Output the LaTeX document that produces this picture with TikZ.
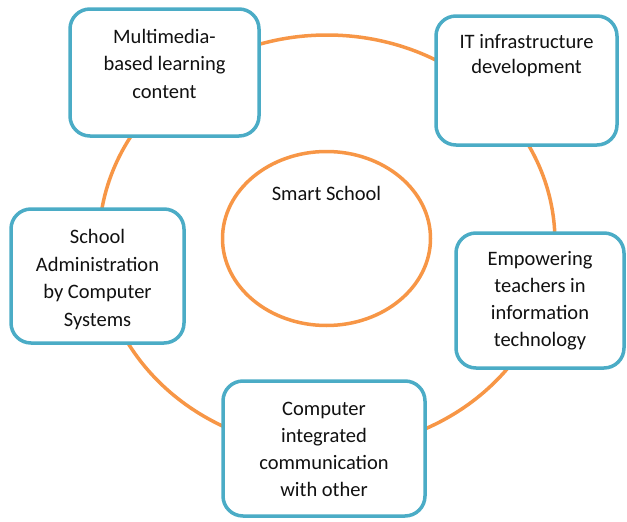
\documentclass[tikz,border=0pt]{standalone}
\usepackage{fontspec}
\setmainfont{Carlito}
\usetikzlibrary{positioning}
\definecolor{Frame}{HTML}{4BACC6}
\definecolor{Ring}{HTML}{F79646}
\definecolor{Ink}{HTML}{111111}
\tikzset{
    areabox/.style={rectangle, rounded corners=20pt, draw=Frame, line width=3.5pt, fill=white, inner sep=0pt},
    areatext/.style={align=center, text=Ink, font=\fontsize{20.5}{27.5}\selectfont, anchor=base, inner sep=0pt},
    orbit/.style={draw=Ring, line width=3.5pt},
}

\begin{document}
\begin{tikzpicture}[x=1pt, y=-1pt]
    \useasboundingbox (0,0) rectangle (627,522);

    % Anello esterno (dietro i riquadri)
    \draw[orbit] (327,242) ellipse [x radius=228pt, y radius=207pt];

    % Centro
    \draw[orbit] (326.5,238.5) ellipse [x radius=104pt, y radius=87pt];
    \node[areatext] (core) at (326.5,200) {Smart School};

    % Riquadri
    \node[areabox, minimum width=189pt, minimum height=127pt] (media) at (164.5,72.5) {};
    \node[areabox, minimum width=181pt, minimum height=129pt] (infra) at (526.5,80.5) {};
    \node[areabox, minimum width=173pt, minimum height=134pt] (admin) at (97.5,276) {};
    \node[areabox, minimum width=168pt, minimum height=135pt] (teach) at (540,300.5) {};
    \node[areabox, minimum width=202pt, minimum height=135pt] (comm) at (324,448.5) {};

    % Testi dei riquadri (ancorati alla linea di base dell'ultima riga)
    \node[areatext] (mediatext) at ([yshift=-91pt]media.north) {Multimedia-\\based learning\\content};
    \node[areatext, font=\fontsize{20.5}{25}\selectfont] (infratext) at ([yshift=-59pt]infra.north) {IT infrastructure\\development};
    \node[areatext] (admintext) at ([yshift=-119pt]admin.north) {School\\Administration\\by Computer\\Systems};
    \node[areatext, font=\fontsize{20.5}{27}\selectfont] (teachtext) at ([yshift=-115pt]teach.north) {Empowering\\teachers in\\information\\technology};
    \node[areatext, font=\fontsize{20.5}{27}\selectfont] (commtext) at ([yshift=-117pt]comm.north) {Computer\\integrated\\communication\\with other};
\end{tikzpicture}
\end{document}
